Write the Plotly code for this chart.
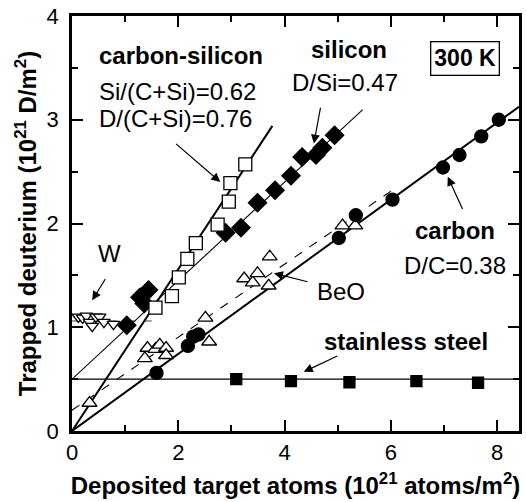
import plotly.graph_objects as go

# ---------------- data ----------------
carbon_x = [1.59, 2.18, 2.28, 2.38, 5.02, 5.34, 6.03, 6.98, 7.29, 7.70, 8.03]
carbon_y = [0.56, 0.82, 0.91, 0.93, 1.86, 2.08, 2.23, 2.54, 2.66, 2.84, 3.00]

csi_x = [1.57, 1.88, 2.01, 2.17, 2.33, 2.74, 2.95, 2.98, 3.26]
csi_y = [1.19, 1.30, 1.48, 1.66, 1.81, 1.99, 2.21, 2.39, 2.57]

si_x = [1.03, 1.28, 1.36, 1.44, 2.89, 3.18, 3.49, 3.82, 4.12, 4.33, 4.59, 4.71, 4.94]
si_y = [1.02, 1.29, 1.23, 1.36, 1.91, 1.96, 2.20, 2.32, 2.46, 2.64, 2.66, 2.73, 2.85]

w_x = [0.12, 0.20, 0.27, 0.33, 0.38, 0.45, 0.52, 0.60, 0.78]
w_y = [1.10, 1.09, 1.11, 1.05, 1.01, 1.10, 1.10, 1.05, 1.03]

beo_x = [0.33, 1.37, 1.42, 1.57, 1.65, 1.77, 1.77, 2.51, 2.58, 3.24, 3.40, 3.49, 3.70, 3.72, 5.09, 5.33]
beo_y = [0.27, 0.70, 0.80, 0.79, 0.83, 0.80, 0.73, 1.09, 0.86, 1.47, 1.43, 1.52, 1.40, 1.68, 1.98, 1.98]

ss_x = [3.09, 4.12, 5.22, 6.48, 7.64]
ss_y = [0.50, 0.48, 0.47, 0.48, 0.465]

# fitted lines: (intercept, slope, x_start, x_end)
carbon_fit = (0.0, 0.3716, 0.0, 8.41)
csi_fit = (0.0, 0.78, 0.0, 3.77)
si_fit = (0.50, 0.475, 0.0, 5.47)
beo_fit = (0.20, 0.352, 0.0, 6.08)
w_fit = (1.06, 0.0, 0.0, 1.50)
ss_fit = (0.50, 0.0, 0.0, 8.41)

FONT = "Liberation Sans, Arial, Helvetica, sans-serif"

fig = go.Figure()


def fit_line(fit, width, dash="solid", color="black"):
    b, m, x0, x1 = fit
    fig.add_trace(go.Scatter(x=[x0, x1], y=[b + m * x0, b + m * x1], mode="lines",
                             line=dict(color=color, width=width, dash=dash),
                             showlegend=False, hoverinfo="skip"))


fit_line(ss_fit, 1.3)
fit_line(w_fit, 1.6, dash="dash", color="#808080")
fit_line(si_fit, 1.1)
fit_line(beo_fit, 1.1, dash="dash")
fit_line(carbon_fit, 2.0)
fit_line(csi_fit, 2.0)


def pts(x, y, symbol, size, filled):
    fig.add_trace(go.Scatter(
        x=x, y=y, mode="markers", showlegend=False,
        marker=dict(symbol=symbol, size=size,
                    color="black" if filled else "white",
                    line=dict(color="black", width=1.3))))


pts(w_x, w_y, "triangle-down", 11, False)
pts(beo_x, beo_y, "triangle-up", 13, False)
pts(ss_x, ss_y, "square", 11, True)
pts(si_x, si_y, "diamond", 14, True)
pts(csi_x, csi_y, "square", 13, False)
pts(carbon_x, carbon_y, "circle", 13, True)

# ---------------- annotations ----------------
TS = 24


def text(x, y, s, bold=False, anchor="center"):
    fig.add_annotation(x=x, y=y, text=f"<b>{s}</b>" if bold else s, showarrow=False,
                       xanchor=anchor, yanchor="middle",
                       font=dict(family=FONT, size=TS, color="black"))


text(0.47, 3.62, "carbon-silicon", bold=True, anchor="left")
text(0.47, 3.27, "Si/(C+Si)=0.62", anchor="left")
text(0.47, 3.01, "D/(C+Si)=0.76", anchor="left")
text(5.21, 3.68, "silicon", bold=True)
text(5.14, 3.36, "D/Si=0.47")
text(0.71, 1.71, "W")
text(5.07, 1.34, "BeO")
text(7.21, 1.93, "carbon", bold=True)
text(7.21, 1.60, "D/C=0.38")
text(6.28, 0.865, "stainless steel", bold=True)

fig.add_annotation(x=7.39, y=3.59, text="<b>300 K</b>", showarrow=False,
                   font=dict(family=FONT, size=23, color="black"),
                   bordercolor="black", borderwidth=1.3, borderpad=3, bgcolor="white")

# arrows: (tail x, tail y, head x, head y)
arrows = [
    (1.93, 2.78, 2.79, 2.40),
    (4.68, 3.13, 4.55, 2.77),
    (7.36, 2.125, 7.07, 2.45),
    (4.46, 1.435, 3.80, 1.52),
    (5.02, 0.73, 4.36, 0.57),
    (0.645, 1.48, 0.38, 1.26),
]
for tx, ty, hx, hy in arrows:
    fig.add_annotation(x=hx, y=hy, ax=tx, ay=ty, axref="x", ayref="y", xref="x", yref="y",
                       text="", showarrow=True, arrowhead=2, arrowsize=1.5, arrowwidth=1.2,
                       arrowcolor="black")

axis_common = dict(showline=True, linecolor="black", linewidth=2.5, mirror="allticks",
                   ticks="inside", ticklen=11, tickwidth=2, tickcolor="black",
                   showgrid=False, zeroline=False,
                   tickfont=dict(family=FONT, size=22, color="black"))

fig.update_xaxes(range=[0, 8.41], tickvals=[0, 2, 4, 6, 8],
                 minor=dict(dtick=1, tick0=0, ticks="inside", ticklen=6, tickwidth=2, tickcolor="black"),
                 title=dict(text="<b>Deposited target atoms (10<sup>21</sup> atoms/m<sup>2</sup>)</b>",
                            font=dict(family=FONT, size=24, color="black"), standoff=14),
                 **axis_common)
fig.update_yaxes(range=[0, 4], tickvals=[0, 1, 2, 3, 4], ticklabelstandoff=6,
                 minor=dict(dtick=0.5, tick0=0, ticks="inside", ticklen=6, tickwidth=2, tickcolor="black"),
                 title=dict(text="<b>Trapped deuterium (10<sup>21</sup> D/m<sup>2</sup>)</b>",
                            font=dict(family=FONT, size=24, color="black"), standoff=4),
                 **axis_common)

fig.update_layout(width=526, height=502, margin=dict(l=72, r=4, t=14, b=71),
                  paper_bgcolor="white", plot_bgcolor="white",
                  font=dict(family=FONT, color="black"))

fig.write_html("out.html")
